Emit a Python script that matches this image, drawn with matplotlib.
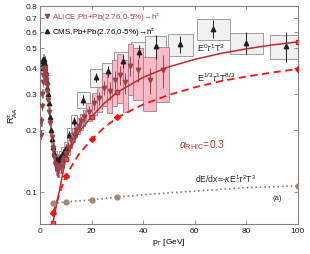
import matplotlib
matplotlib.use('Agg')
import matplotlib.pyplot as plt
from matplotlib.patches import Rectangle
from matplotlib.lines import Line2D
from matplotlib.ticker import FixedLocator, FixedFormatter, NullLocator

plt.rcParams['font.family'] = ['Liberation Sans', 'DejaVu Sans']
plt.rcParams['mathtext.fontset'] = 'custom'
plt.rcParams['mathtext.rm'] = 'Liberation Sans'
plt.rcParams['mathtext.it'] = 'Liberation Sans:italic'

# ALICE charged hadrons, Pb+Pb 2.76 TeV 0-5%
alice_pt = [0.3, 0.5, 0.7, 0.9, 1.1, 1.3, 1.5, 1.7, 1.9, 2.1, 2.3, 2.5, 2.7, 2.9,
            3.2, 3.6, 4.0, 4.5, 5.0, 5.5, 6.0, 6.5, 7.0, 8.0, 9.0, 10.0, 11.0, 12.0,
            13.0, 14.0, 15.0, 16.0, 17.0, 19.0, 21.0, 23.0, 25.0, 27.0, 29.0, 31.0,
            33.0, 35.0, 38.0, 42.5, 47.5]
alice_raa = [0.19, 0.22, 0.26, 0.30, 0.34, 0.37, 0.39, 0.40, 0.40, 0.39, 0.37, 0.35,
             0.33, 0.31, 0.28, 0.245, 0.215, 0.185, 0.163, 0.148, 0.137, 0.130, 0.128,
             0.134, 0.143, 0.153, 0.165, 0.178, 0.19, 0.20, 0.21, 0.22, 0.23, 0.245,
             0.27, 0.285, 0.32, 0.31, 0.35, 0.37, 0.34, 0.41, 0.39, 0.35, 0.39]
alice_bw = [0.2, 0.2, 0.2, 0.2, 0.2, 0.2, 0.2, 0.2, 0.2, 0.2, 0.2, 0.2, 0.2, 0.2,
            0.4, 0.4, 0.4, 0.5, 0.5, 0.5, 0.5, 0.5, 0.5, 1.0, 1.0, 1.0, 1.0, 1.0,
            1.0, 1.0, 1.0, 1.0, 1.0, 2.0, 2.0, 2.0, 2.0, 2.0, 2.0, 2.0,
            2.0, 2.0, 4.0, 5.0, 5.0]
alice_sys = [0.05, 0.05, 0.05, 0.05, 0.05, 0.05, 0.05, 0.05, 0.05, 0.05, 0.05, 0.05,
             0.05, 0.05, 0.05, 0.05, 0.06, 0.06, 0.06, 0.07, 0.07, 0.07, 0.08, 0.08,
             0.08, 0.08, 0.08, 0.08, 0.08, 0.08, 0.09, 0.09, 0.09, 0.10, 0.12, 0.14,
             0.18, 0.22, 0.25, 0.27, 0.28, 0.28, 0.28, 0.29, 0.30]
alice_err = [0.01, 0.01, 0.01, 0.01, 0.01, 0.01, 0.01, 0.01, 0.01, 0.01, 0.01, 0.01,
             0.01, 0.01, 0.01, 0.01, 0.01, 0.01, 0.01, 0.01, 0.01, 0.01, 0.01, 0.01,
             0.01, 0.01, 0.01, 0.01, 0.01, 0.01, 0.01, 0.01, 0.012, 0.015, 0.02, 0.02,
             0.025, 0.03, 0.035, 0.04, 0.04, 0.045, 0.05, 0.05, 0.07]

# CMS charged hadrons, Pb+Pb 2.76 TeV 0-5%
cms_pt = [1.05, 1.15, 1.25, 1.35, 1.5, 1.7, 1.9, 2.1, 2.3, 2.5, 2.7, 2.9, 3.1, 3.4,
          3.8, 4.2, 4.6, 5.0, 5.6, 6.2, 6.8, 7.6, 8.8, 10.0, 11.4, 13.2, 16.8, 21.6,
          26.4, 32.0, 38.4, 44.8, 54.4, 67.2, 80.0, 95.2]
cms_raa = [0.40, 0.42, 0.43, 0.44, 0.44, 0.43, 0.42, 0.40, 0.38, 0.36, 0.34, 0.32,
           0.30, 0.27, 0.23, 0.20, 0.18, 0.165, 0.155, 0.147, 0.143, 0.148, 0.155,
           0.163, 0.19, 0.22, 0.28, 0.36, 0.385, 0.43, 0.48, 0.51, 0.52, 0.62, 0.53,
           0.51]
cms_bw = [0.1, 0.1, 0.1, 0.1, 0.2, 0.2, 0.2, 0.2, 0.2, 0.2, 0.2, 0.2, 0.2, 0.4,
          0.4, 0.4, 0.4, 0.4, 0.8, 0.6, 0.6, 0.8, 1.6, 1.2, 1.6, 2.4, 4.8, 4.8,
          4.8, 6.4, 6.4, 8.0, 9.6, 12.8, 12.8, 12.4]
cms_sys = [0.06, 0.06, 0.06, 0.06, 0.06, 0.06, 0.06, 0.06, 0.06, 0.06, 0.06, 0.06,
           0.06, 0.06, 0.06, 0.06, 0.06, 0.06, 0.06, 0.07, 0.07, 0.07, 0.07, 0.07,
           0.08, 0.08, 0.09, 0.10, 0.10, 0.11, 0.11, 0.12, 0.12, 0.12, 0.12, 0.13]
cms_err = [0.005, 0.005, 0.005, 0.005, 0.005, 0.005, 0.005, 0.005, 0.005, 0.005,
           0.005, 0.005, 0.005, 0.005, 0.005, 0.005, 0.005, 0.005, 0.005, 0.005,
           0.005, 0.005, 0.006, 0.007, 0.008, 0.01, 0.015, 0.02, 0.025, 0.03, 0.035,
           0.07, 0.05, 0.06, 0.065, 0.085]

# model curves
model_pt = [5, 10, 15, 20, 25, 30, 40, 50, 60, 70, 80, 90, 100]
raa_e0 = [0.0707, 0.145, 0.195, 0.232, 0.27, 0.305, 0.36, 0.405, 0.44, 0.47, 0.495, 0.517, 0.535]
raa_e13 = [0.079, 0.12, 0.152, 0.18, 0.206, 0.23, 0.266, 0.296, 0.322, 0.345, 0.363, 0.38, 0.395]
raa_de = [0.088, 0.0895, 0.0905, 0.0915, 0.093, 0.0945, 0.097, 0.099, 0.101, 0.103, 0.105, 0.106, 0.107]
mark_idx = [0, 1, 3, 5, 12]

fig = plt.figure(figsize=(3.1, 2.55), dpi=100)
ax = fig.add_axes([0.129, 0.118, 0.832, 0.855])
ax.set_yscale('log')

# systematic boxes
for p, v, w, s in zip(cms_pt, cms_raa, cms_bw, cms_sys):
    ax.add_patch(Rectangle((p - w / 2, v * (1 - s)), w, 2 * s * v,
                           facecolor='#f0f0f0', edgecolor='#909090', lw=0.6, zorder=1))
for p, v, w, s in zip(alice_pt, alice_raa, alice_bw, alice_sys):
    ax.add_patch(Rectangle((p - w / 2, v * (1 - s)), w, 2 * s * v,
                           facecolor='#f9b9c6', edgecolor='#a08088', lw=0.6, zorder=2))

alice_c = '#a0404a'
ax.errorbar(cms_pt, cms_raa, yerr=cms_err, fmt='^', color='#202020', ms=3.2,
            elinewidth=0.7, capsize=0, zorder=4)
ax.errorbar(alice_pt, alice_raa, yerr=alice_err, fmt='v', color=alice_c, ms=3.2,
            elinewidth=0.7, capsize=0, zorder=5)

ax.plot(model_pt, raa_e0, '-', color='#c0282c', lw=1.1, marker='s', ms=3.5,
        mfc='#e06070', mec='#c0282c', markevery=mark_idx, zorder=6)
ax.plot(model_pt, raa_e13, '--', color='#ff1010', lw=1.3, marker='D', ms=3,
        markevery=mark_idx, zorder=6, dashes=(4, 2.5))
ax.plot(model_pt, raa_de, ':', color='#9a7a60', lw=1.2, marker='o', ms=3.5,
        mfc='#a08878', mec='#a08878', markevery=mark_idx, zorder=6)

ax.text(61, 0.485, r'E$^{0}$$\tau$$^{1}$T$^{3}$', fontsize=6.5, color='#202020')
ax.text(61, 0.345, r'E$^{1/3}$$\tau$$^{1}$T$^{8/3}$', fontsize=6.5, color='#202020')
ax.text(54, 0.165, r'$\alpha_{\rm RHIC}$=0.3', fontsize=7.5, color='#c03030')
ax.text(60, 0.112, r'dE/dx=-$\kappa$E$^{1}$$\tau$$^{2}$T$^{3}$', fontsize=6.2, color='#202020')
ax.text(90, 0.092, '(a)', fontsize=5.5, color='#202020')

ax.set_xlim(0, 100)
ax.set_ylim(0.07, 0.8)
yt = [0.1, 0.2, 0.3, 0.4, 0.5, 0.6, 0.7, 0.8]
ax.yaxis.set_major_locator(FixedLocator(yt))
ax.yaxis.set_major_formatter(FixedFormatter([str(t) for t in yt]))
ax.yaxis.set_minor_locator(NullLocator())
ax.set_xticks([0, 20, 40, 60, 80, 100])
ax.tick_params(direction='in', top=True, right=True, labelsize=6, length=3,
               width=0.6, colors='#808080', labelcolor='#202020', pad=2)
for sp in ax.spines.values():
    sp.set_color('#808080')
    sp.set_linewidth(0.8)

ax.set_xlabel(r'p$_{\rm T}$ [GeV]', fontsize=6, labelpad=2)
ax.set_ylabel(r'R$_{\rm AA}^{\pm}$', fontsize=6.5, labelpad=4)

handles = [Line2D([], [], ls='none', marker='v', color=alice_c, ms=3),
           Line2D([], [], ls='none', marker='^', color='#202020', ms=3)]
labels = [r'ALICE,Pb+Pb(2.76,0-5%)→h$^{\pm}$', r'CMS,Pb+Pb(2.76,0-5%)→h$^{\pm}$']
leg = ax.legend(handles, labels, loc='upper left', fontsize=5.8, frameon=False,
                handlelength=0.6, handletextpad=0.3, borderaxespad=0.2,
                labelspacing=0.3)
leg.get_texts()[0].set_color(alice_c)

fig.savefig('out.png', dpi=100)
